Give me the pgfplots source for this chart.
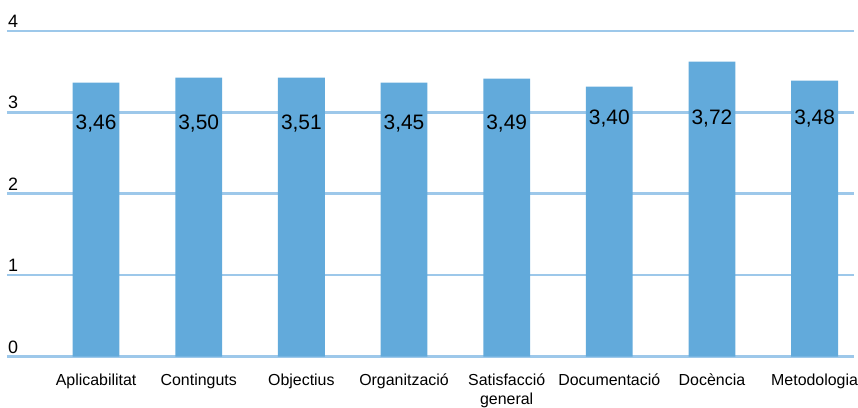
\documentclass[border=0pt]{standalone}
\usepackage{pgfplots}
\pgfplotsset{compat=1.18}
\usepackage{fontspec}
\setmainfont{Liberation Sans}
\definecolor{barblue}{RGB}{98,170,219}
\definecolor{gridblue}{RGB}{157,200,234}
\begin{document}
\begin{tikzpicture}
\begin{axis}[
  scale only axis,
  width=851bp, height=327bp,
  xmin=-0.868, xmax=7.388,
  ymin=0, ymax=4,
  axis line style={draw=none},
  ytick={0,1,2,3,4},
  ymajorgrids,
  grid style={color=gridblue, line width=2.5bp},
  major tick length=0pt,
  xtick={0,...,7},
  xticklabels={Aplicabilitat,Continguts,Objectius,Organització,{Satisfacció\\general},Documentació,Docència,Metodologia},
  xticklabel style={font=\fontsize{16bp}{19bp}\selectfont, align=center, anchor=north, inner sep=0pt, yshift=-17bp},
  yticklabel style={font=\fontsize{18bp}{20bp}\selectfont, anchor=south west, inner sep=0pt, xshift=1bp, yshift=3bp},
  /pgf/number format/assume math mode=true,
  clip=false,
]
\addplot[ybar, bar width=47bp, fill=barblue, draw=none] coordinates {
  (0,3.364) (1,3.425) (2,3.425) (3,3.364) (4,3.413) (5,3.315) (6,3.621) (7,3.389)
};
\addplot[draw=none, mark=none, nodes near coords, point meta=explicit symbolic,
  every node near coord/.style={anchor=center, inner sep=0pt, font=\fontsize{21bp}{24bp}\selectfont, text=black}]
  table[meta=label] {
x y label
0 2.860 3,46
1 2.860 3,50
2 2.860 3,51
3 2.860 3,45
4 2.860 3,49
5 2.925 3,40
6 2.925 3,72
7 2.925 3,48
};
\end{axis}
\path[use as bounding box] (-7bp,-50bp) rectangle (851bp,358bp);
\end{tikzpicture}
\end{document}
